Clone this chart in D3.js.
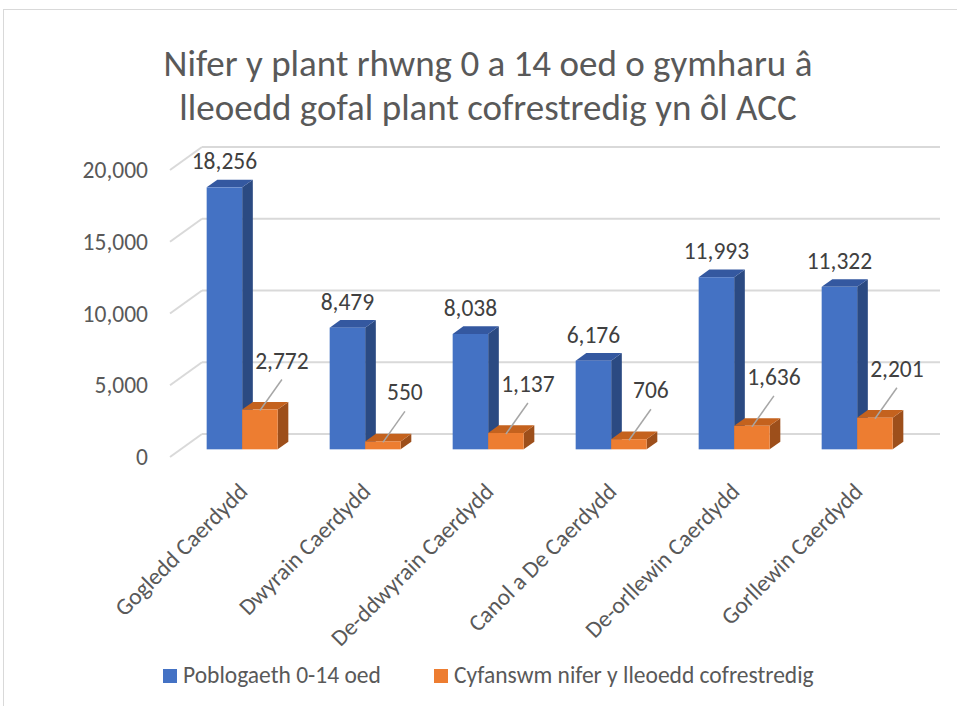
<!DOCTYPE html>
<html>
<head>
<meta charset="utf-8">
<script src="https://cdn.jsdelivr.net/npm/d3@7"></script>
<style>
  body { margin: 0; background: #fff; }
  text { font-family: Calibri, Carlito, Lato, sans-serif; }
</style>
</head>
<body>
<script>
'use strict';

const width = 957;
const height = 706;

// chart values
const categories = ["Gogledd Caerdydd", "Dwyrain Caerdydd", "De-ddwyrain Caerdydd",
  "Canol a De Caerdydd", "De-orllewin Caerdydd", "Gorllewin Caerdydd"];
const population = [18256, 8479, 8038, 6176, 11993, 11322];
const places = [2772, 550, 1137, 706, 1636, 2201];
const seriesNames = ["Poblogaeth 0-14 oed", "Cyfanswm nifer y lleoedd cofrestredig"];
const yTicks = [0, 5000, 10000, 15000, 20000];
const titleLines = ["Nifer y plant rhwng 0 a 14 oed o gymharu â",
  "lleoedd gofal plant cofrestredig yn ôl ACC"];

const colors = [
  { front: "#4472c4", top: "#3458a0", side: "#2b4a82" },
  { front: "#ed7d31", top: "#c4621e", side: "#9d4f1b" }
];

// depth of the 3d box (oblique projection)
const depth = { dx: 32, dy: -23 };
const fontSize = '23.5px';

let svg = d3.select('body').append('svg')
    .attr('width', width)
    .attr('height', height);

// chart border (only top and left visible)
svg.append('rect')
    .attr('x', 3.5).attr('y', 9.5)
    .attr('width', 1200).attr('height', 1200)
    .style('fill', 'none')
    .style('stroke', '#d9d9d9')
    .style('stroke-width', 1);

// title
svg.append('text')
    .attr('x', 488)
    .attr('y', 76)
    .style('text-anchor', 'middle')
    .style('font-size', '37px')
    .style('fill', '#595959')
    .selectAll('tspan')
    .data(titleLines).enter()
    .append('tspan')
    .attr('x', 488)
    .attr('dy', (d, i) => i === 0 ? 0 : 44)
    .text(d => d);

// scales (front plane)
let x = d3.scaleBand()
    .domain(categories)
    .range([170, 908]);

let x1 = d3.scaleBand()
    .domain(seriesNames)
    .range([0, 71]);

let y = d3.scaleLinear()
    .domain([0, 20000])
    .range([457, 170]);

// gridlines: back wall + left wall diagonals
let grid = svg.append('g').attr('class', 'grid');
grid.selectAll('line.back')
    .data(yTicks).enter()
    .append('line')
    .attr('class', 'back')
    .attr('x1', x.range()[0] + depth.dx)
    .attr('x2', x.range()[1] + depth.dx)
    .attr('y1', d => y(d) + depth.dy)
    .attr('y2', d => y(d) + depth.dy)
    .style('stroke', '#d9d9d9')
    .style('stroke-width', 2);

grid.selectAll('line.side')
    .data(yTicks).enter()
    .append('line')
    .attr('class', 'side')
    .attr('x1', x.range()[0])
    .attr('x2', x.range()[0] + depth.dx)
    .attr('y1', d => y(d))
    .attr('y2', d => y(d) + depth.dy)
    .style('stroke', '#d9d9d9')
    .style('stroke-width', 2);

// y axis labels
svg.append('g')
    .selectAll('text')
    .data(yTicks).enter()
    .append('text')
    .attr('x', 148)
    .attr('y', d => y(d))
    .attr('dy', '0.35em')
    .style('text-anchor', 'end')
    .style('font-size', fontSize)
    .style('fill', '#595959')
    .text(d3.format(','));

// bars
const fmt = d3.format(',');
const ddx = depth.dx / 3, ddy = depth.dy / 3;
const inset = (x.bandwidth() - x1.range()[1]) / 2;

let rows = [];
categories.forEach(function (c, i) {
  [population[i], places[i]].forEach(function (v, s) {
    rows.push({ cat: c, series: seriesNames[s], s: s, value: v });
  });
});

let bars = svg.append('g').selectAll('g.bar')
    .data(rows).enter()
    .append('g')
    .attr('class', 'bar');

function geom(d) {
  let x0 = x(d.cat) + inset + x1(d.series) + ddx;
  let w = x1.bandwidth();
  let yb = y(0) + ddy;
  let yt = y(d.value) + ddy;
  return { x0: x0, w: w, yb: yb, yt: yt };
}

bars.append('polygon')
    .attr('points', function (d) {
      let g = geom(d);
      return [[g.x0 + g.w, g.yt], [g.x0 + g.w + ddx, g.yt + ddy],
        [g.x0 + g.w + ddx, g.yb + ddy], [g.x0 + g.w, g.yb]].join(' ');
    })
    .style('fill', d => colors[d.s].side);

bars.append('polygon')
    .attr('points', function (d) {
      let g = geom(d);
      return [[g.x0, g.yt], [g.x0 + g.w, g.yt],
        [g.x0 + g.w + ddx, g.yt + ddy], [g.x0 + ddx, g.yt + ddy]].join(' ');
    })
    .style('fill', d => colors[d.s].top);

bars.append('rect')
    .attr('x', d => geom(d).x0)
    .attr('y', d => geom(d).yt)
    .attr('width', d => geom(d).w)
    .attr('height', d => geom(d).yb - geom(d).yt)
    .style('fill', d => colors[d.s].front);

// data labels
let labels = svg.append('g');
rows.forEach(function (d) {
  let g = geom(d);
  let cx = g.x0 + g.w / 2;
  if (d.s === 0) {
    labels.append('text')
        .attr('x', cx)
        .attr('y', g.yt - 18)
        .style('text-anchor', 'middle')
        .style('font-size', fontSize)
        .style('fill', '#404040')
        .text(fmt(d.value));
  } else {
    labels.append('line')
        .attr('x1', cx).attr('y1', g.yt + 1)
        .attr('x2', cx + 22).attr('y2', g.yt - 30)
        .style('stroke', '#a6a6a6')
        .style('stroke-width', 1.5);
    labels.append('text')
        .attr('x', cx + 22)
        .attr('y', g.yt - 41)
        .style('text-anchor', 'middle')
        .style('font-size', fontSize)
        .style('fill', '#404040')
        .text(fmt(d.value));
  }
});

// category labels
svg.append('g')
    .selectAll('text')
    .data(categories).enter()
    .append('text')
    .attr('transform', d => 'translate(' + (x(d) + x.bandwidth() / 2 + 17.5) + ',493) rotate(-45)')
    .style('text-anchor', 'end')
    .style('font-size', fontSize)
    .style('fill', '#595959')
    .text(d => d);

// legend
let legend = svg.append('g');
const legendX = [163, 434];
seriesNames.forEach(function (name, i) {
  legend.append('rect')
      .attr('x', legendX[i])
      .attr('y', 669)
      .attr('width', 14)
      .attr('height', 14)
      .style('fill', colors[i].front);
  legend.append('text')
      .attr('x', legendX[i] + 20)
      .attr('y', 683)
      .style('font-size', fontSize)
      .style('fill', '#595959')
      .text(name);
});

</script>
</body>
</html>
